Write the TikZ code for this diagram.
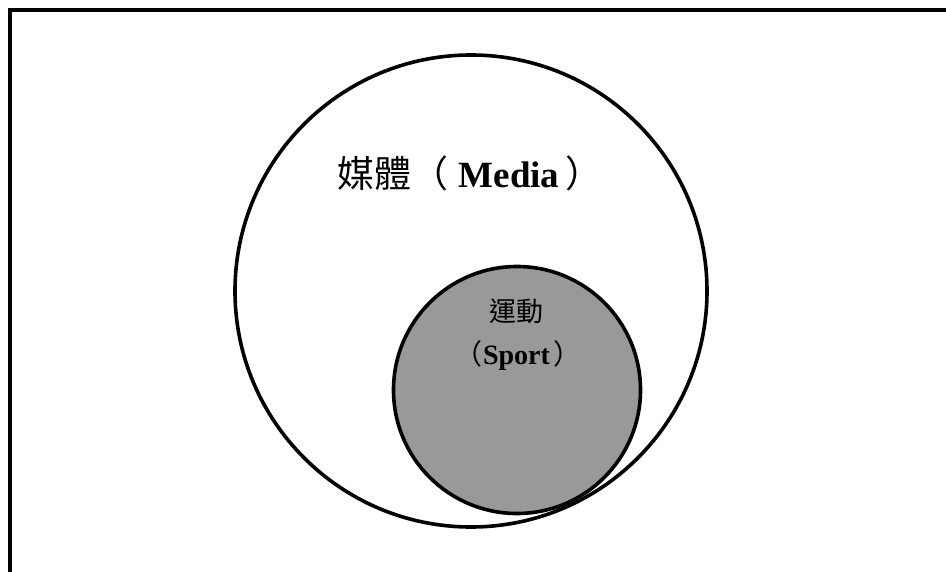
\documentclass[tikz,border=0pt]{standalone}
\usepackage{fontspec}
\setmainfont{Liberation Serif}
\newfontfamily\cjk{Noto Sans CJK TC}
\begin{document}
\begin{tikzpicture}[x=1pt,y=-1pt,
  ring/.style={draw=black,line width=3.6pt},
  lbl/.style={inner sep=0pt,anchor=base}]
\useasboundingbox (0,0) rectangle (946,572);
\clip (0,0) rectangle (946,572);
\fill[white] (0,0) rectangle (946,572);
\draw[line width=3.6pt] (10,10) rectangle (960,585);
\node[ring,circle,minimum size=472pt,inner sep=0pt] (media) at (471,291) {};
\node[ring,circle,minimum size=247pt,inner sep=0pt,fill={rgb,255:red,153;green,153;blue,153}] (sport) at (517,390) {};
\node[lbl,font=\fontsize{37}{40}\selectfont] (mlabel) at (470,188) {{\cjk 媒體（}\hspace{10pt}\textbf{Media}\hspace{6pt}{\cjk ）}};
\node[lbl,font=\fontsize{27}{30}\selectfont] (slabel1) at (516,322) {{\cjk 運動}};
\node[lbl,font=\fontsize{28}{30}\selectfont] (slabel2) at (518,365) {{\cjk （}\hspace{1pt}\textbf{Sport}\hspace{4pt}{\cjk ）}};
\end{tikzpicture}
\end{document}
